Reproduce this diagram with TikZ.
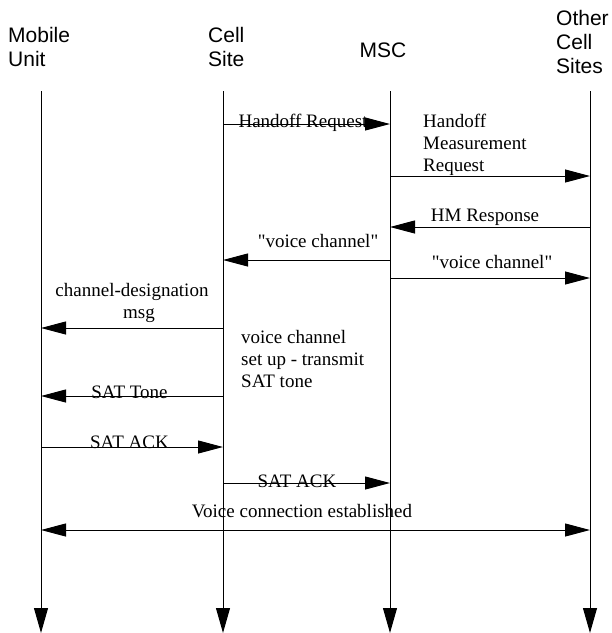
\documentclass[tikz,border=0pt]{standalone}
\usepackage{fontspec}
\setmainfont{Liberation Serif}[Ligatures=TeXOff]
\newfontfamily\headfont{Liberation Sans}
\usetikzlibrary{arrows.meta}

\tikzset{
  msg/.style={line width=1pt,-{Triangle[length=25pt,width=13pt]}},
  dmsg/.style={line width=1pt,{Triangle[length=25pt,width=13pt]}-{Triangle[length=25pt,width=13pt]}},
  life/.style={line width=1pt,-{Triangle[length=25pt,width=14pt]}},
  head/.style={font=\headfont\fontsize{21}{24}\selectfont,inner sep=0pt,anchor=base west},
  lbl/.style={font=\fontsize{19}{22}\selectfont,inner sep=0pt,anchor=base},
  lbll/.style={lbl,anchor=base west},
}

\begin{document}
\begin{tikzpicture}[x=1pt,y=-1pt]
  \useasboundingbox (0,0) rectangle (612,633);

  % participants
  \node[head] (hmu1) at (8,42) {Mobile};
  \node[head] (hmu2) at (8,66) {Unit};
  \node[head] (hcs1) at (208,42) {Cell};
  \node[head] (hcs2) at (208,66) {Site};
  \node[head,anchor=base] (hmsc) at (383,57) {MSC};
  \node[head] (hoc1) at (556,25) {Other};
  \node[head] (hoc2) at (556,49) {Cell};
  \node[head] (hoc3) at (556,73) {Sites};

  % lifelines
  \coordinate (mu) at (41,91);
  \coordinate (cs) at (223,91);
  \coordinate (msc) at (390,91);
  \coordinate (oc) at (590,91);
  \coordinate (mub) at (41,633);
  \coordinate (csb) at (223,633);
  \coordinate (mscb) at (390,633);
  \coordinate (ocb) at (590,633);
  \draw[life] (mu) -- (mub);
  \draw[life] (cs) -- (csb);
  \draw[life] (msc) -- (mscb);
  \draw[life] (oc) -- (ocb);

  % messages
  \draw[msg] (cs |- 0,124) -- (msc |- 0,124);
  \node[lbl] (t1) at (303,127) {Handoff Request};

  \draw[msg] (msc |- 0,176) -- (oc |- 0,176);
  \node[lbll] (t2a) at (423,127) {Handoff};
  \node[lbll] (t2b) at (423,149) {Measurement};
  \node[lbll] (t2c) at (423,171) {Request};

  \draw[msg] (oc |- 0,227) -- (msc |- 0,227);
  \node[lbl] (t3) at (485,221) {HM Response};

  \draw[msg] (msc |- 0,260) -- (cs |- 0,260);
  \node[lbl] (t4) at (318,247) {"voice channel"};

  \draw[msg] (msc |- 0,278) -- (oc |- 0,278);
  \node[lbl] (t5) at (492,268) {"voice channel"};

  \draw[msg] (cs |- 0,328) -- (mu |- 0,328);
  \node[lbl] (t6a) at (132,296) {channel-designation};
  \node[lbl] (t6b) at (139,318) {msg};

  \node[lbll] (t7a) at (241,343) {voice channel};
  \node[lbll] (t7b) at (241,365) {set up - transmit};
  \node[lbll] (t7c) at (241,387) {SAT tone};

  \draw[msg] (cs |- 0,396) -- (mu |- 0,396);
  \node[lbl] (t8) at (129.5,398) {SAT Tone};

  \draw[msg] (mu |- 0,447) -- (cs |- 0,447);
  \node[lbl] (t9) at (129.5,448) {SAT ACK};

  \draw[msg] (cs |- 0,483) -- (msc |- 0,483);
  \node[lbl] (t10) at (297,487) {SAT ACK};

  \draw[dmsg] (mu |- 0,530) -- (oc |- 0,530);
  \node[lbl] (t11) at (302,517) {Voice connection established};
\end{tikzpicture}
\end{document}
